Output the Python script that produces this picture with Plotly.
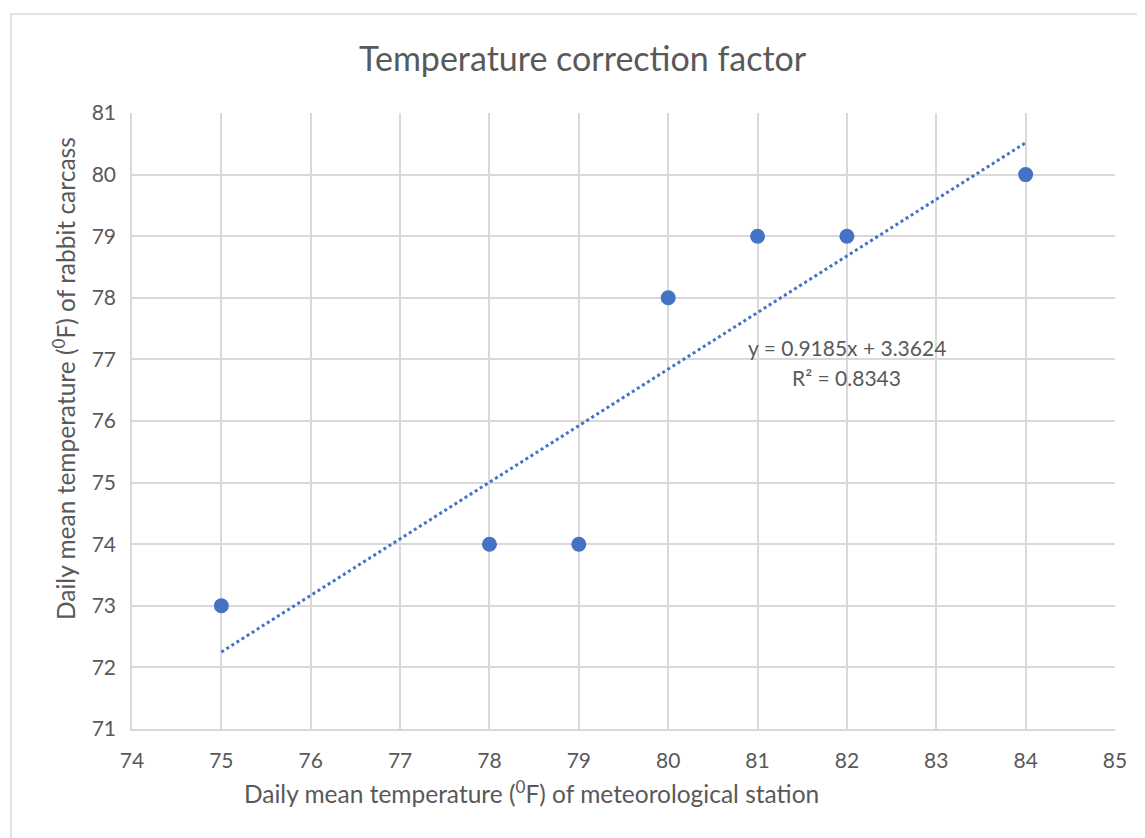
import plotly.graph_objects as go

station_temp = [75, 78, 79, 80, 81, 82, 84]
carcass_temp = [73, 74, 74, 78, 79, 79, 80]
slope = 0.9185
intercept = 3.3624
r_squared = 0.8343
trend_x = [75, 84]
trend_y = [slope * v + intercept for v in trend_x]

blue = "#4472C4"
grey_text = "#595959"
font_family = "Lato, 'Open Sans', sans-serif"

OFF = 8  # page body margin
W, H = 1145 - OFF, 838 - OFF
L, T = 132 - OFF, 113 - OFF
R = W - (1115 - OFF)
B = H - (729 - OFF)
pw, ph = W - L - R, H - T - B

fig = go.Figure()
fig.add_trace(go.Scatter(x=trend_x, y=trend_y, mode="lines",
                         line=dict(color=blue, width=3, dash="dot"),
                         hoverinfo="skip", showlegend=False))
fig.add_trace(go.Scatter(x=station_temp, y=carcass_temp, mode="markers",
                         marker=dict(color=blue, size=15),
                         showlegend=False))

def px_x(p):
    return (p - OFF - L) / pw

def px_y(p):
    return 1 - (p - OFF - T) / ph

fig.update_layout(
    width=W, height=H,
    margin=dict(l=L, r=R, t=T, b=B),
    paper_bgcolor="white", plot_bgcolor="white",
    font=dict(family=font_family, color=grey_text, size=21),
    xaxis=dict(range=[74, 85], dtick=1, tick0=74, showgrid=True, gridcolor="#d9d9d9",
               gridwidth=1.5, zeroline=False, showline=True, linecolor="#d9d9d9",
               linewidth=1.5, ticks="", ticklabelstandoff=12,
               tickfont=dict(size=21, color=grey_text)),
    yaxis=dict(range=[71, 81], dtick=1, tick0=71, showgrid=True, gridcolor="#d9d9d9",
               gridwidth=1.5, zeroline=False, showline=True, linecolor="#d9d9d9",
               linewidth=1.5, ticks="", ticklabelstandoff=10,
               tickfont=dict(size=21, color=grey_text)),
    shapes=[dict(type="rect", xref="paper", yref="paper",
                 x0=px_x(11), x1=px_x(1145 + 5), y0=px_y(838 + 5), y1=px_y(14),
                 line=dict(color="#d9d9d9", width=1.5), fillcolor="rgba(0,0,0,0)",
                 layer="below")],
    annotations=[
        dict(text="Temperature correction factor", xref="paper", yref="paper",
             x=px_x(583), y=px_y(57), showarrow=False, xanchor="center", yanchor="middle",
             font=dict(size=34, color=grey_text)),
        dict(text="Daily mean temperature (<sup>0</sup>F) of meteorological station",
             xref="paper", yref="paper", x=px_x(531), y=px_y(792), showarrow=False,
             xanchor="center", yanchor="middle", font=dict(size=24.5, color=grey_text)),
        dict(text="Daily mean temperature (<sup>0</sup>F) of rabbit carcass",
             xref="paper", yref="paper", x=px_x(64), y=px_y(379), showarrow=False,
             textangle=-90, xanchor="center", yanchor="middle",
             font=dict(size=24.5, color=grey_text)),
        dict(text=f"y = {slope}x + {intercept}", x=82.0, y=77.2, xref="x", yref="y",
             showarrow=False, xanchor="center", yanchor="middle",
             font=dict(size=21, color=grey_text)),
        dict(text=f"R² = {r_squared}", x=82.0, y=76.71, xref="x", yref="y",
             showarrow=False, xanchor="center", yanchor="middle",
             font=dict(size=21, color=grey_text)),
    ],
)

fig.write_html("out.html")
